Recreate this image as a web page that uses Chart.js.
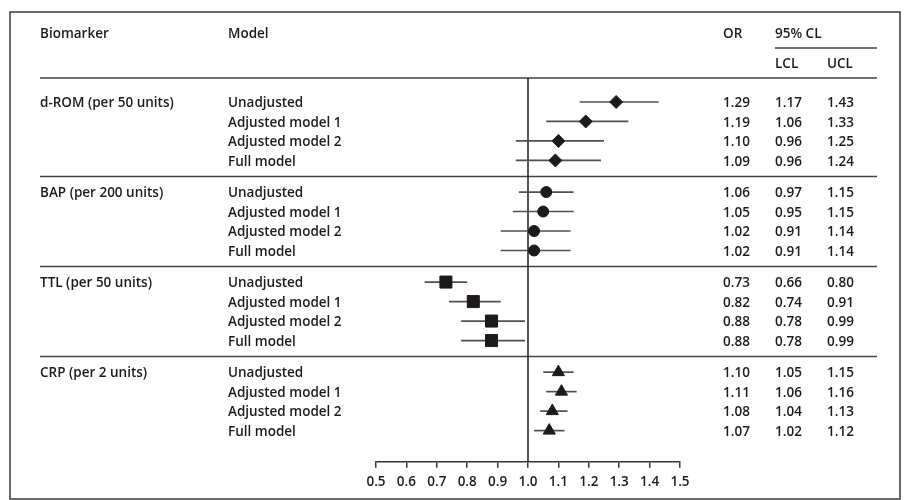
<!DOCTYPE html>
<html lang="en">
<head>
  <meta charset="UTF-8" />
  <title>Biomarker forest plot</title>
  <script src="https://cdn.jsdelivr.net/npm/chart.js"></script>
  <style>
    body { margin: 0; background: #fff; }
    .chart-box { position: relative; width: 905px; height: 500px; }
  </style>
</head>
<body>
<div class="chart-box">
  <canvas id="forestChart" width="905" height="500"></canvas>
</div>

<script>
  // Data
  const biomarkers = ['d-ROM (per 50 units)', 'BAP (per 200 units)', 'TTL (per 50 units)', 'CRP (per 2 units)'];
  const models = ['Unadjusted', 'Adjusted model 1', 'Adjusted model 2', 'Full model'];

  const orDrom  = [1.29, 1.19, 1.10, 1.09];
  const lclDrom = [1.17, 1.06, 0.96, 0.96];
  const uclDrom = [1.43, 1.33, 1.25, 1.24];

  const orBap  = [1.06, 1.05, 1.02, 1.02];
  const lclBap = [0.97, 0.95, 0.91, 0.91];
  const uclBap = [1.15, 1.15, 1.14, 1.14];

  const orTtl  = [0.73, 0.82, 0.88, 0.88];
  const lclTtl = [0.66, 0.74, 0.78, 0.78];
  const uclTtl = [0.80, 0.91, 0.99, 0.99];

  const orCrp  = [1.10, 1.11, 1.08, 1.07];
  const lclCrp = [1.05, 1.06, 1.04, 1.02];
  const uclCrp = [1.15, 1.16, 1.13, 1.12];

  const xTicks = [0.5, 0.6, 0.7, 0.8, 0.9, 1.0, 1.1, 1.2, 1.3, 1.4, 1.5];

  const groups = [
    { or: orDrom, lcl: lclDrom, ucl: uclDrom, style: 'rectRot', radius: 6.5 },
    { or: orBap,  lcl: lclBap,  ucl: uclBap,  style: 'circle',  radius: 5.5 },
    { or: orTtl,  lcl: lclTtl,  ucl: uclTtl,  style: 'rect',    radius: 8.5 },
    { or: orCrp,  lcl: lclCrp,  ucl: uclCrp,  style: 'triangle', radius: 7 }
  ];

  const INK = '#1e1a1b';
  const LINE = '#444';
  const FONT = "'Open Sans', 'Noto Sans', sans-serif";
  const GROUP_STEP = 4.62;
  const TEXT_DY = 1.5; // Open Sans sits a little high with 'middle'

  // row position on the y scale (rows go downwards)
  function rowPos(g, r) {
    return g * GROUP_STEP + r;
  }

  const datasets = groups.map((grp, g) => ({
    label: biomarkers[g],
    data: grp.or.map((v, r) => ({ x: v, y: rowPos(g, r) })),
    pointStyle: grp.style,
    pointRadius: grp.radius,
    pointHoverRadius: grp.radius,
    backgroundColor: INK,
    borderColor: INK,
    borderWidth: 1
  }));

  const forestTable = {
    id: 'forestTable',
    beforeDatasetsDraw(chart) {
      const { ctx, chartArea, scales: { x, y } } = chart;
      ctx.save();
      ctx.strokeStyle = LINE;
      ctx.lineWidth = 1.6;

      // frame
      ctx.strokeRect(10, 12, 890, 487);

      // header rules
      ctx.beginPath();
      ctx.moveTo(775, 48); ctx.lineTo(877, 48);
      ctx.moveTo(40, chartArea.top); ctx.lineTo(877, chartArea.top);
      ctx.stroke();

      // rules between biomarker groups
      ctx.beginPath();
      for (let g = 1; g < groups.length; g++) {
        const yy = Math.round((y.getPixelForValue(rowPos(g - 1, 3)) + y.getPixelForValue(rowPos(g, 0))) / 2) + 0.5;
        ctx.moveTo(40, yy);
        ctx.lineTo(877, yy);
      }
      ctx.stroke();

      // line of no effect
      ctx.strokeStyle = '#2a2a2a';
      ctx.beginPath();
      const x1 = x.getPixelForValue(1.0);
      ctx.moveTo(x1, chartArea.top);
      ctx.lineTo(x1, chartArea.bottom);
      ctx.stroke();

      // confidence intervals
      ctx.strokeStyle = '#505050';
      ctx.lineWidth = 1.7;
      groups.forEach((grp, g) => {
        grp.or.forEach((v, r) => {
          const py = y.getPixelForValue(rowPos(g, r));
          ctx.beginPath();
          ctx.moveTo(x.getPixelForValue(grp.lcl[r]), py);
          ctx.lineTo(x.getPixelForValue(grp.ucl[r]), py);
          ctx.stroke();
        });
      });
      ctx.restore();
    },
    afterDraw(chart) {
      const { ctx, scales: { y } } = chart;
      ctx.save();
      ctx.fillStyle = INK;
      ctx.font = '600 13.5px ' + FONT;
      ctx.textBaseline = 'middle';
      ctx.textAlign = 'left';

      ctx.fillText('Biomarker', 40, 34);
      ctx.fillText('Model', 228, 34);
      ctx.fillText('OR', 723, 34);
      ctx.fillText('95% CL', 775, 34);
      ctx.fillText('LCL', 775, 64);
      ctx.fillText('UCL', 827, 64);

      groups.forEach((grp, g) => {
        ctx.fillText(biomarkers[g], 40, y.getPixelForValue(rowPos(g, 0)) + TEXT_DY);
        grp.or.forEach((v, r) => {
          const py = y.getPixelForValue(rowPos(g, r)) + TEXT_DY;
          ctx.fillText(models[r], 228, py);
          ctx.fillText(v.toFixed(2), 723, py);
          ctx.fillText(grp.lcl[r].toFixed(2), 775, py);
          ctx.fillText(grp.ucl[r].toFixed(2), 827, py);
        });
      });
      ctx.restore();
    }
  };

  new Chart(document.getElementById('forestChart'), {
    type: 'scatter',
    data: { datasets },
    options: {
      responsive: false,
      animation: false,
      layout: { padding: { left: 376, right: 225, top: 78, bottom: 4 } },
      plugins: {
        legend: { display: false },
        tooltip: { enabled: false }
      },
      scales: {
        x: {
          type: 'linear',
          min: 0.5,
          max: 1.5,
          afterBuildTicks: (axis) => { axis.ticks = xTicks.map(v => ({ value: v })); },
          ticks: {
            color: INK,
            font: { family: FONT, size: 13.5, weight: '600' },
            padding: 6,
            maxRotation: 0,
            autoSkip: false,
            callback: (v) => Number(v).toFixed(1)
          },
          grid: { drawOnChartArea: false, drawTicks: true, tickLength: 6, color: '#333', lineWidth: 1.5 },
          border: { display: true, color: '#333', width: 1.6 }
        },
        y: {
          type: 'linear',
          display: false,
          reverse: true,
          min: -1.23,
          max: 18.46
        }
      }
    },
    plugins: [forestTable]
  });
</script>
</body>
</html>
